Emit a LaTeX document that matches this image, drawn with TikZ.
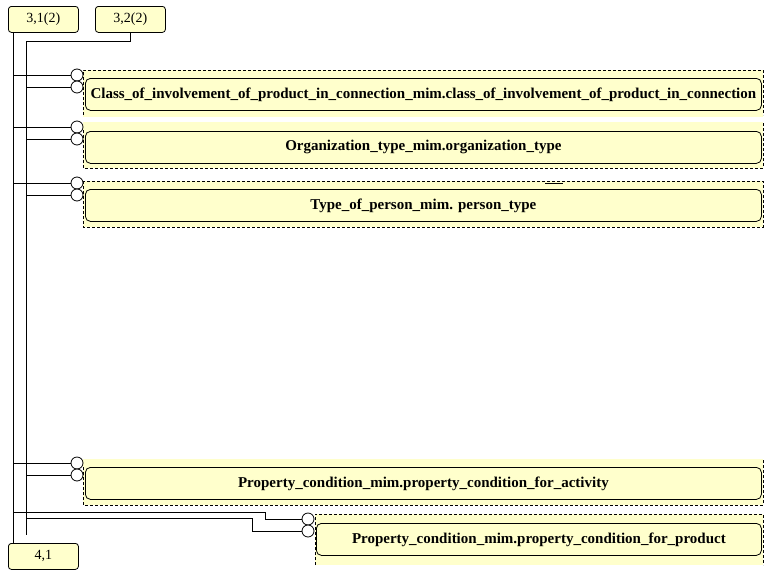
\documentclass[tikz,border=0pt]{standalone}
\usepackage{fontspec}
\setmainfont{Liberation Serif}
\definecolor{ent}{RGB}{255,255,204}
\begin{document}
\begin{tikzpicture}[x=1pt,y=-1pt,line width=0.8pt,
  lbl/.style={draw, rounded corners=3pt, fill=ent, inner sep=0pt, minimum width=70pt, minimum height=26pt, anchor=north west, font=\fontsize{14}{16}\selectfont},
  ebox/.style={draw, rounded corners=5pt, fill=ent, inner sep=0pt, minimum height=32pt, anchor=north west, font=\bfseries\fontsize{15}{17}\selectfont},
  ring/.style={circle, draw, fill=white, minimum size=12pt, inner sep=0pt},
  dsh/.style={dash pattern=on 3pt off 2pt},
  band/.style={fill=ent}]
\useasboundingbox (0,0) rectangle (768,576);
\fill[white] (0,0) rectangle (768,576);
% bands
\fill[ent] (83,70) rectangle (763,117);
\fill[ent] (83,122) rectangle (763,168);
\fill[ent] (83,181) rectangle (763,227);
\fill[ent] (83,459) rectangle (763,505);
\fill[ent] (315,514) rectangle (763,565);
\draw[dsh] (83,115) -- (83,70) -- (763,70) -- (763,115);
\draw[dsh] (83,130) -- (83,168) -- (763,168) -- (763,123);
\draw[dsh] (83,181) rectangle (763,227);
\draw[dsh] (83,467) -- (83,505) -- (763,505) -- (763,460);
\draw[dsh] (315,565) -- (315,514) -- (763,514) -- (763,565);
\draw (545,183) -- (563,183);
% label boxes
\node[lbl] (b31) at (8,6) {3,1(2)};
\node[lbl] (b32) at (95,6) {3,2(2)};
\node[lbl] (b41) at (8,543) {4,1};
% entity boxes
\node[ebox, minimum width=676pt] (e1) at (85,78) {Class\_of\_involvement\_of\_product\_in\_connection\_mim.class\_of\_involvement\_of\_product\_in\_connection};
\node[ebox, minimum width=676pt] (e2) at (85,131) {Organization\_type\_mim.organization\_type};
\node[ebox, minimum width=676pt] (e3) at (85,189) {Type\_of\_person\_mim. person\_type};
\node[ebox, minimum width=676pt] (e4) at (85,467) {Property\_condition\_mim.property\_condition\_for\_activity};
\node[ebox, minimum width=445pt] (e5) at (316,523) {Property\_condition\_mim.property\_condition\_for\_product};
% trunks
\coordinate (T1) at (13,0);
\coordinate (T2) at (26,0);
\coordinate (j2) at (26,41);
\coordinate (e2end) at (26,535);
\draw ([xshift=5pt]b31.south west) -- ([xshift=5pt]b41.north west);
\draw ([xshift=35pt]b32.south west) |- (j2) -- (e2end);
% rings
\node[ring] (r1a) at (77,75) {};
\node[ring] (r1b) at (77,87) {};
\node[ring] (r2a) at (77,127) {};
\node[ring] (r2b) at (77,139) {};
\node[ring] (r3a) at (77,183) {};
\node[ring] (r3b) at (77,195) {};
\node[ring] (r4a) at (77,463) {};
\node[ring] (r4b) at (77,475) {};
\node[ring] (r5a) at (308,519) {};
\node[ring] (r5b) at (308,531) {};
% branches
\foreach \r in {r1a,r2a,r3a,r4a} \draw (\r.west -| T1) -- (\r.west);
\foreach \r in {r1b,r2b,r3b,r4b} \draw (\r.west -| T2) -- (\r.west);
\coordinate (k1) at (265,512);
\coordinate (k2) at (252,518);
\draw (k1 -| T1) -- (k1) |- (r5a.west);
\draw (k2 -| T2) -- (k2) |- (r5b.west);
\end{tikzpicture}
\end{document}
